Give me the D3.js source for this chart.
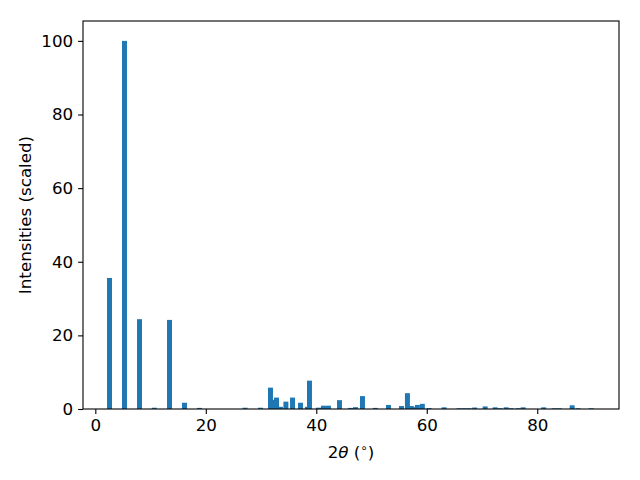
<!DOCTYPE html>
<html><head><meta charset="utf-8">
<script src="https://cdn.jsdelivr.net/npm/d3@7"></script>
<style>body{margin:0;background:#fff}svg{display:block}text{font-family:"DejaVu Sans",sans-serif}</style>
</head><body>
<script>
const positions = [2.57,5.28,8.0,10.68,13.43,16.14,18.86,27.1,29.9,31.71,32.43,32.8,33.52,34.5,35.7,37.14,38.4,38.77,40.4,41.3,42.2,44.2,46.19,47.1,48.36,50.7,53.07,55.42,56.5,57.2,57.6,58.3,59.2,60.43,63.15,65.86,66.77,67.67,68.67,70.57,72.38,73.25,74.37,75.28,76.54,77.45,81.16,83.06,83.96,86.32,87.4,89.76];
const intensities = [35.6,100,24.4,0.35,24.2,1.7,0.3,0.35,0.35,5.8,2.5,3.1,0.6,2.0,3.1,1.7,0.6,7.7,0.36,0.9,0.9,2.4,0.3,0.5,3.5,0.3,1.1,0.8,4.3,0.8,0.5,1.1,1.4,0.25,0.45,0.2,0.2,0.2,0.4,0.7,0.45,0.2,0.45,0.2,0.2,0.45,0.45,0.2,0.2,1.0,0.2,0.2];
const xTicks = [0,20,40,60,80];
const yTicks = [0,20,40,60,80,100];
const barWidth = 0.9;

const W=640,H=480, L=83, R=619, T=21, B=409;
const svg=d3.select("body").append("svg").attr("width",W).attr("height",H);
const x=d3.scaleLinear().domain([-2.23,94.8]).range([L,R]);
const y=d3.scaleLinear().domain([0,105.4]).range([B,T]);

svg.append("g").selectAll("rect").data(positions).join("rect")
  .attr("x",(d)=>x(d-barWidth/2)).attr("width",(d)=>x(d+barWidth/2)-x(d-barWidth/2))
  .attr("y",(d,i)=>y(intensities[i])).attr("height",(d,i)=>y(0)-y(intensities[i]))
  .attr("fill","#1f77b4");

const fs="16.7px";
const xa=svg.append("g").attr("transform",`translate(0,${B})`)
  .call(d3.axisBottom(x).tickValues(xTicks).tickSize(4.9).tickPadding(4.9).tickFormat(d3.format("d")));
const ya=svg.append("g").attr("transform",`translate(${L},0)`)
  .call(d3.axisLeft(y).tickValues(yTicks).tickSize(4.9).tickPadding(4.9).tickFormat(d3.format("d")));
[xa,ya].forEach(a=>{a.select(".domain").remove();a.selectAll("line").attr("stroke","#000").attr("stroke-width",1.1);
  a.selectAll("text").attr("fill","#000").style("font-size",fs).style("font-family","DejaVu Sans");});

svg.append("rect").attr("x",L).attr("y",T).attr("width",R-L).attr("height",B-T)
  .attr("fill","none").attr("stroke","#000").attr("stroke-width",1.1);

const xl=svg.append("text").attr("x",(L+R)/2).attr("y",458).attr("text-anchor","middle").style("font-size",fs);
xl.append("tspan").text("2");
xl.append("tspan").attr("font-style","italic").text("θ");
xl.append("tspan").text(" (");
xl.append("tspan").attr("dy",-6).style("font-size","12px").text("∘");
xl.append("tspan").attr("dy",6).text(")");

svg.append("text").attr("transform",`translate(31,${(T+B)/2}) rotate(-90)`).attr("text-anchor","middle")
  .style("font-size",fs).text("Intensities (scaled)");
</script>
</body></html>
